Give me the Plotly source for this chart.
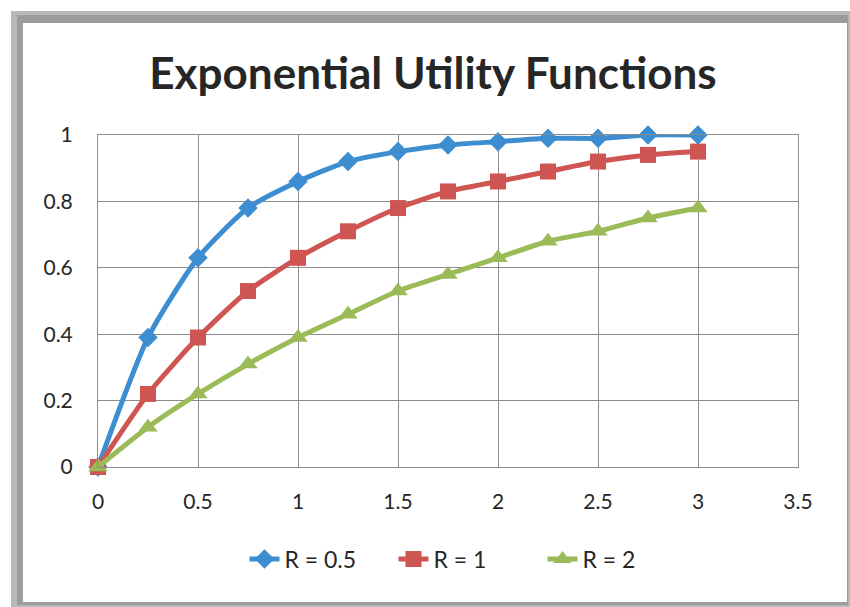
import plotly.graph_objects as go

x_vals = [0, 0.25, 0.5, 0.75, 1.0, 1.25, 1.5, 1.75, 2.0, 2.25, 2.5, 2.75, 3.0]
r05 = [0, 0.39, 0.63, 0.78, 0.86, 0.92, 0.95, 0.97, 0.98, 0.99, 0.99, 1.00, 1.00]
r1 = [0, 0.22, 0.39, 0.53, 0.63, 0.71, 0.78, 0.83, 0.86, 0.89, 0.92, 0.94, 0.95]
r2 = [0, 0.12, 0.22, 0.31, 0.39, 0.46, 0.53, 0.58, 0.63, 0.68, 0.71, 0.75, 0.78]
series_names = ["R = 0.5", "R = 1", "R = 2"]
x_ticks = [0, 0.5, 1, 1.5, 2, 2.5, 3, 3.5]
x_tick_text = ["0", "0.5", "1", "1.5", "2", "2.5", "3", "3.5"]
y_ticks = [0, 0.2, 0.4, 0.6, 0.8, 1]
y_tick_text = ["0", "0.2", "0.4", "0.6", "0.8", "1"]

W, H = 850, 607
L, R, T, B = 98, 52, 135, 140
pw, ph = W - L - R, H - T - B

def px_x(p):
    return (p - L) / pw

def px_y(p):
    return (H - B - p) / ph

FONT = "Lato"
TXT = "#262626"
GRID = "#8c8c8c"

fig = go.Figure()
styles = [
    dict(color="#3D8ED0", symbol="diamond", size=15),
    dict(color="#CF5552", symbol="square", size=16),
    dict(color="#9BBB59", symbol="triangle-up", size=17),
]
for name, ys, st in zip(series_names, [r05, r1, r2], styles):
    fig.add_trace(go.Scatter(
        x=x_vals, y=ys, name=name, mode="lines+markers",
        line=dict(color=st["color"], width=5, shape="spline", smoothing=0.6),
        marker=dict(symbol=st["symbol"], size=st["size"], color=st["color"]),
        cliponaxis=False,
    ))

shapes = [
    dict(type="rect", xref="paper", yref="paper", layer="below",
         x0=px_x(11), x1=px_x(850), y0=px_y(11), y1=px_y(607),
         fillcolor="#b8b8b8", line=dict(width=0)),
    dict(type="rect", xref="paper", yref="paper", layer="below",
         x0=px_x(17), x1=px_x(848), y0=px_y(15), y1=px_y(605),
         fillcolor="#9c9c9c", line=dict(width=0)),
    dict(type="rect", xref="paper", yref="paper", layer="below",
         x0=px_x(23), x1=px_x(847), y0=px_y(23), y1=px_y(602),
         fillcolor="white", line=dict(width=0)),
]

fig.update_layout(
    width=W, height=H,
    margin=dict(l=L, r=R, t=T, b=B),
    paper_bgcolor="white", plot_bgcolor="white",
    title=dict(text="<b>Exponential Utility Functions</b>", x=433 / W, xanchor="center",
               y=1 - 74 / H, yanchor="middle", yref="container",
               font=dict(family=FONT, size=44, color=TXT)),
    font=dict(family=FONT, size=21, color=TXT),
    xaxis=dict(range=[0, 3.5], tickvals=x_ticks, ticktext=x_tick_text,
               showgrid=True, gridcolor=GRID, gridwidth=1, zeroline=False,
               showline=True, linecolor=GRID, linewidth=1, mirror=True,
               ticks="", ticklabelstandoff=16, tickfont=dict(size=21, color=TXT)),
    yaxis=dict(range=[0, 1], tickvals=y_ticks, ticktext=y_tick_text,
               showgrid=True, gridcolor=GRID, gridwidth=1, zeroline=False,
               showline=True, linecolor=GRID, linewidth=1, mirror=True,
               ticks="", ticklabelstandoff=20, tickfont=dict(size=21, color=TXT)),
    legend=dict(orientation="h", x=468 / W, xanchor="center", xref="container",
                y=1 - 559 / H, yanchor="middle", yref="container",
                font=dict(size=23, color=TXT), bgcolor="rgba(0,0,0,0)",
                entrywidth=104, entrywidthmode="pixels"),
    showlegend=True,
    shapes=shapes,
)

fig.write_html("out.html", config={"displayModeBar": False},
               post_script="document.body.style.margin='0';")
